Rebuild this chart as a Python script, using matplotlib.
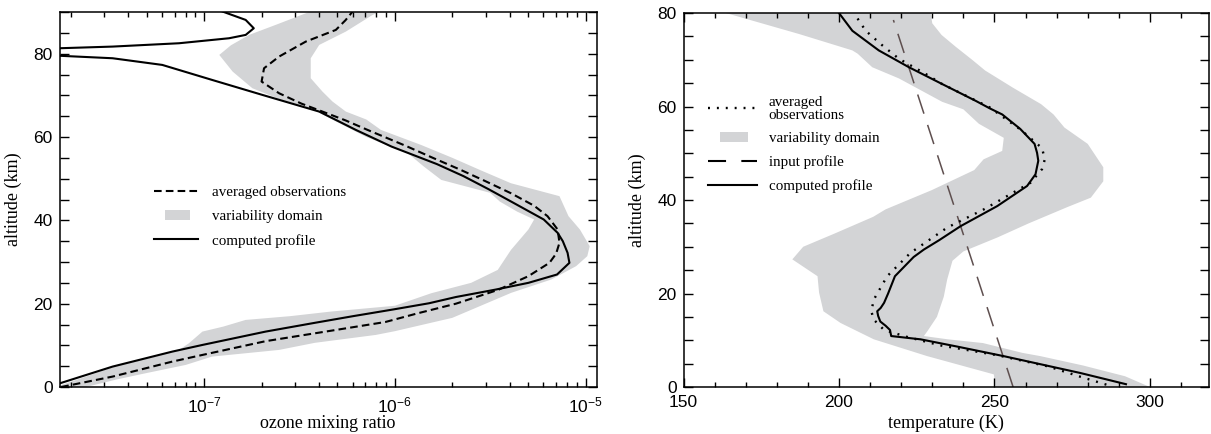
import matplotlib
matplotlib.use("Agg")
import matplotlib.pyplot as plt
from matplotlib.lines import Line2D
from matplotlib.patches import Patch, Rectangle
from matplotlib.legend_handler import HandlerPatch
from matplotlib.ticker import MultipleLocator, LogLocator

plt.rcParams["mathtext.fontset"] = "custom"
plt.rcParams["mathtext.rm"] = "Liberation Sans"
plt.rcParams["mathtext.it"] = "Liberation Sans:italic"
plt.rcParams["mathtext.bf"] = "Liberation Sans:bold"
plt.rcParams["lines.scale_dashes"] = False

# ---------------- ozone profile (mixing ratio vs altitude, km) ----------------
o3_comp_alt = [0.7, 4.9, 8.5, 10.1, 13.3, 15.4, 17.0, 18.6, 20.1, 21.6, 23.4, 25.0,
               27.0, 29.8, 32.2, 35.0, 37.0, 40.2, 44.5, 47.5, 50.6, 53.5, 57.7, 61.7,
               66.1, 70.1, 73.7, 77.3, 78.9, 79.5, 80.4, 81.3, 81.7, 82.5, 83.7, 84.5,
               86.1, 88.1, 90.1]
o3_comp = [1.70e-8, 3.31e-8, 6.81e-8, 9.8e-8, 2.10e-7, 3.80e-7, 6.03e-7, 9.77e-7,
           1.51e-6, 2.09e-6, 3.39e-6, 5.01e-6, 7.08e-6, 8.22e-6, 8.04e-6, 7.59e-6,
           7.13e-6, 6.03e-6, 4.07e-6, 3.09e-6, 2.29e-6, 1.66e-6, 9.6e-7, 6.24e-7,
           4.01e-7, 2.02e-7, 1.10e-7, 6.03e-8, 3.31e-8, 1.74e-8, 1.0e-9, 1.74e-8,
           3.31e-8, 7.38e-8, 1.35e-7, 1.65e-7, 1.82e-7, 1.65e-7, 1.25e-7]

o3_obs_alt = [0.0, 2.5, 6.1, 7.7, 11.0, 13.4, 15.6, 17.7, 20.0, 23.3, 26.6, 29.8,
              32.0, 34.6, 37.8, 41.0, 43.5, 46.5, 49.5, 52.2, 55.0, 57.8, 61.7, 64.0,
              66.1, 68.0, 70.5, 73.3, 76.5, 79.3, 82.9, 85.7, 88.0, 90.1]
o3_obs = [1.78e-8, 3.31e-8, 6.81e-8, 9.8e-8, 2.10e-7, 4.47e-7, 8.91e-7, 1.32e-6,
          2.09e-6, 3.47e-6, 5.01e-6, 6.46e-6, 7.00e-6, 7.29e-6, 7.13e-6, 6.31e-6,
          5.37e-6, 4.06e-6, 2.95e-6, 2.19e-6, 1.58e-6, 1.15e-6, 7.19e-7, 5.50e-7,
          4.17e-7, 3.24e-7, 2.47e-7, 2.00e-7, 2.06e-7, 2.47e-7, 3.41e-7, 4.90e-7,
          5.50e-7, 6.00e-7]

o3_low_alt = [0.0, 2.5, 4.9, 7.5, 8.9, 10.5, 13.3, 14.5, 16.1, 17.0, 18.1, 19.5,
              22.5, 25.0, 28.1, 32.9, 37.8, 40.2, 42.1, 44.5, 46.6, 49.7, 53.0, 56.1,
              60.0, 64.2, 66.9, 69.0, 71.7, 75.7, 79.7, 82.0, 84.5, 87.0, 90.0]
o3_low = [1.66e-8, 2.40e-8, 3.39e-8, 5.75e-8, 7.38e-8, 8.32e-8, 9.79e-8, 1.26e-7,
          1.65e-7, 2.82e-7, 4.61e-7, 1.0e-6, 1.55e-6, 2.51e-6, 3.46e-6, 4.06e-6,
          5.01e-6, 5.37e-6, 4.37e-6, 3.55e-6, 3.16e-6, 1.75e-6, 1.41e-6, 1.17e-6,
          7.08e-7, 4.68e-7, 3.63e-7, 2.51e-7, 1.79e-7, 1.41e-7, 1.20e-7, 1.38e-7,
          1.72e-7, 2.40e-7, 3.55e-7]

o3_high_alt = [0.0, 1.8, 3.3, 5.3, 7.3, 8.9, 10.6, 12.5, 13.4, 16.6, 19.5, 22.6,
               25.8, 29.0, 31.4, 33.8, 37.8, 41.0, 45.8, 48.9, 52.0, 55.0, 58.1, 61.7,
               64.2, 66.1, 68.5, 70.9, 74.1, 78.9, 82.1, 85.3, 89.3, 90.0]
o3_high = [2.40e-8, 3.47e-8, 4.93e-8, 8.0e-8, 1.10e-7, 2.47e-7, 3.80e-7, 7.94e-7,
           1.0e-6, 2.0e-6, 2.82e-6, 4.07e-6, 6.61e-6, 8.91e-6, 1.02e-5, 1.05e-5,
           9.33e-6, 8.13e-6, 7.29e-6, 4.06e-6, 2.82e-6, 2.0e-6, 1.37e-6, 8.45e-7,
           7.08e-7, 5.53e-7, 4.71e-7, 4.17e-7, 3.62e-7, 3.62e-7, 4.01e-7, 5.53e-7,
           7.64e-7, 8.32e-7]

# ---------------- temperature profile (K vs altitude, km) ----------------
t_comp_alt = [0.6, 3.0, 6.6, 8.65, 10.2, 10.9, 12.2, 13.1, 14.0, 15.2, 16.2, 16.9,
              18.0, 20.0, 23.7, 27.8, 29.4, 31.4, 34.4, 38.7, 43.0, 45.5, 48.4, 50.1,
              52.0, 55.2, 58.3, 59.6, 61.2, 64.8, 68.4, 72.0, 76.2, 80.0]
t_comp = [292.3, 277.6, 253.0, 238.0, 226.2, 216.8, 216.4, 215.0, 213.3, 212.6,
          212.3, 213.4, 214.5, 215.8, 218.0, 224.0, 227.3, 232.2, 239.1, 250.9,
          260.5, 263.2, 264.1, 263.7, 262.9, 258.3, 252.5, 248.5, 244.0, 233.2,
          222.5, 212.8, 204.3, 200.0]

t_obs_alt = [0.5, 2.2, 4.4, 6.8, 8.9, 10.7, 12.2, 14.4, 16.2, 18.7, 23.7, 28.7,
             34.1, 38.0, 43.7, 46.6, 48.7, 51.1, 55.0, 59.8, 64.8, 67.0, 70.2, 73.1,
             76.2, 80.0]
t_obs = [286.0, 277.6, 267.3, 250.9, 232.6, 222.0, 214.5, 211.2, 210.4, 211.2,
         215.5, 223.0, 234.8, 246.6, 261.6, 265.3, 266.2, 265.3, 258.5, 248.5,
         233.2, 227.8, 219.3, 213.9, 208.6, 204.8]

t_input_alt = [0.0, 78.5]
t_input = [256.0, 217.5]

t_low_alt = [0.0, 2.7, 6.6, 10.2, 13.7, 16.2, 20.2, 23.7, 27.3, 30.0, 32.8, 36.4,
             38.0, 42.1, 46.4, 48.7, 50.5, 53.3, 56.3, 59.4, 61.0, 66.0, 68.4, 71.3,
             72.0, 75.5, 80.0]
t_low = [250.3, 249.8, 228.4, 211.2, 200.5, 195.0, 193.6, 193.1, 185.0, 188.5,
         198.5, 211.0, 215.0, 229.8, 243.5, 246.5, 252.5, 253.0, 245.0, 240.0,
         233.2, 219.3, 210.7, 206.0, 204.3, 187.2, 163.6]

t_high_alt = [0.0, 2.3, 4.6, 6.6, 7.3, 9.4, 10.2, 10.9, 12.0, 15.0, 19.3, 23.0,
              27.0, 29.0, 32.0, 35.0, 38.5, 40.5, 44.0, 47.0, 52.0, 55.5, 58.3, 60.5,
              64.0, 67.7, 69.9, 72.8, 75.3, 77.8, 80.0]
t_high = [300.0, 292.0, 278.5, 264.8, 259.0, 246.3, 235.0, 227.3, 228.5, 231.5,
          233.7, 234.8, 236.5, 240.0, 251.0, 261.0, 273.5, 281.0, 285.0, 285.0,
          280.0, 272.5, 269.0, 265.0, 256.0, 247.0, 243.0, 237.5, 233.0, 230.0,
          229.5]

o3_legend = ["averaged observations", "variability domain", "computed profile"]
t_legend = ["averaged\nobservations", "variability domain", "input profile",
            "computed profile"]

BAND = "#d3d4d6"
INPUT = "#5e4f4f"
SERIF = "Liberation Serif"
SANS = "Liberation Sans"


def small_box(legend, orig_handle, xdescent, ydescent, width, height, fontsize):
    w = width * 0.58
    h = height * 0.95
    return Rectangle((-xdescent + (width - w) / 2 + 1, -ydescent + (height - h) / 2), w, h)


def style_axes(ax):
    for s in ax.spines.values():
        s.set_linewidth(1.1)
    ax.tick_params(which="both", direction="in", top=True, right=True, width=1.0,
                   labelsize=12.5, pad=5, colors="black")
    ax.tick_params(axis="x", which="both", pad=6)
    ax.tick_params(which="major", length=6.5)
    ax.tick_params(which="minor", length=3.5)
    ax.tick_params(axis="y", which="minor", length=6.5)
    for lab in ax.get_xticklabels() + ax.get_yticklabels():
        lab.set_family(SANS)


fig = plt.figure(figsize=(12.11, 4.34), dpi=100)

# ---------------- left: ozone ----------------
ax1 = fig.add_axes([0.04938, 0.10829, 0.44319, 0.86406])
band1_x = o3_low + o3_high[::-1]
band1_y = o3_low_alt + o3_high_alt[::-1]
ax1.fill(band1_x, band1_y, color=BAND, lw=0, zorder=1)
ax1.plot(o3_obs, o3_obs_alt, color="black", lw=1.5, dashes=(5.5, 3.0), zorder=3)
ax1.plot(o3_comp, o3_comp_alt, color="black", lw=1.5, zorder=4)
ax1.set_xscale("log")
ax1.set_xlim(1.75e-8, 1.14e-5)
ax1.set_ylim(0, 90)
ax1.xaxis.set_major_locator(LogLocator(base=10))
ax1.xaxis.set_minor_locator(LogLocator(base=10, subs=range(2, 10)))
ax1.yaxis.set_major_locator(MultipleLocator(20))
ax1.yaxis.set_minor_locator(MultipleLocator(5))
style_axes(ax1)
ax1.set_xlabel("ozone mixing ratio", family=SERIF, fontsize=13)
ax1.set_ylabel("altitude (km)", family=SERIF, fontsize=13)
ax1.xaxis.set_label_coords(0.5, -0.074)
ax1.yaxis.set_label_coords(-0.070, 0.5)

h1 = [Line2D([], [], color="black", lw=1.5, dashes=(5.5, 3.0)),
      Patch(facecolor=BAND, edgecolor="none"),
      Line2D([], [], color="black", lw=1.5)]
leg1 = ax1.legend(h1, o3_legend, loc="upper left", bbox_to_anchor=(0.1755, 0.538),
                  frameon=False, prop={"family": SERIF, "size": 10.8},
                  handlelength=2.95, handletextpad=0.95, labelspacing=0.72,
                  borderpad=0, borderaxespad=0,
                  handler_map={Patch: HandlerPatch(patch_func=small_box)})

# ---------------- right: temperature ----------------
ax2 = fig.add_axes([0.56441, 0.10829, 0.43394, 0.86175])
band2_x = t_low + t_high[::-1]
band2_y = t_low_alt + t_high_alt[::-1]
ax2.fill(band2_x, band2_y, color=BAND, lw=0, zorder=1)
ax2.plot(t_input, t_input_alt, color=INPUT, lw=1.1, dashes=(14.5, 8.5), zorder=2)
ax2.plot(t_obs, t_obs_alt, color="black", lw=1.7, dashes=(1.4, 5.0), zorder=3)
ax2.plot(t_comp, t_comp_alt, color="black", lw=1.5, zorder=4)
ax2.set_xlim(150, 319)
ax2.set_ylim(0, 80)
ax2.xaxis.set_major_locator(MultipleLocator(50))
ax2.xaxis.set_minor_locator(MultipleLocator(10))
ax2.yaxis.set_major_locator(MultipleLocator(20))
ax2.yaxis.set_minor_locator(MultipleLocator(5))
style_axes(ax2)
ax2.set_xlabel("temperature (K)", family=SERIF, fontsize=13)
ax2.set_ylabel("altitude (km)", family=SERIF, fontsize=13)
ax2.xaxis.set_label_coords(0.5, -0.074)
ax2.yaxis.set_label_coords(-0.071, 0.5)

h2 = [Line2D([], [], color="black", lw=1.7, dashes=(1.4, 5.0)),
      Patch(facecolor=BAND, edgecolor="none"),
      Line2D([], [], color="black", lw=1.5, dashes=(13.0, 11.0)),
      Line2D([], [], color="black", lw=1.5)]
leg2 = ax2.legend(h2, t_legend, loc="upper left", bbox_to_anchor=(0.0466, 0.779),
                  frameon=False, prop={"family": SERIF, "size": 10.8},
                  handlelength=3.3, handletextpad=0.75, labelspacing=0.68,
                  borderpad=0, borderaxespad=0,
                  handler_map={Patch: HandlerPatch(patch_func=small_box)})
for t in leg2.get_texts():
    t.set_linespacing(1.0)

fig.savefig("out.png", dpi=100)
